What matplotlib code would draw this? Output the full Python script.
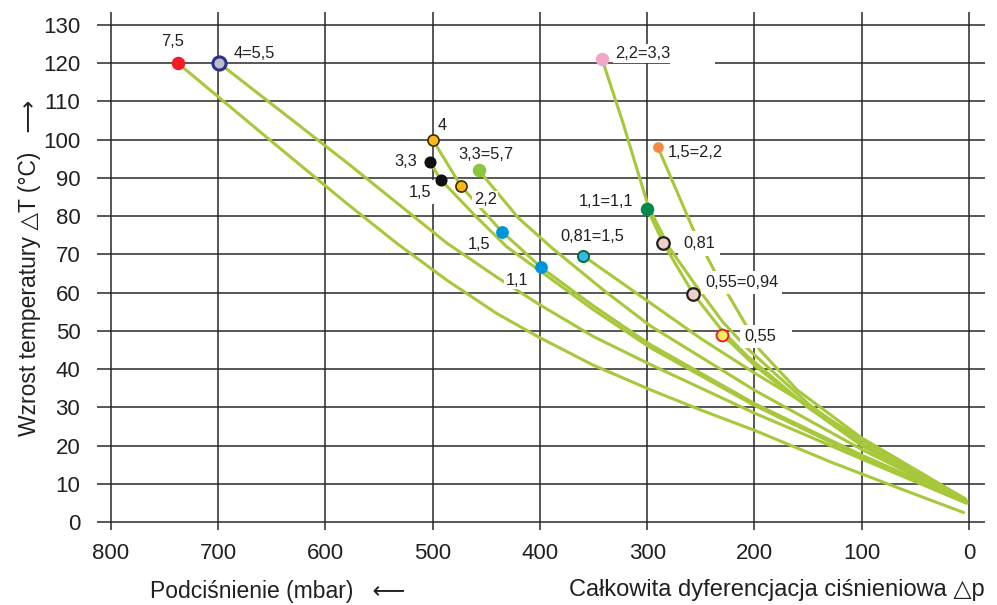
import matplotlib
matplotlib.use('Agg')
import matplotlib.pyplot as plt

plt.rcParams['font.family'] = ['Liberation Sans', 'DejaVu Sans']

x_ticks = [800, 700, 600, 500, 400, 300, 200, 100, 0]
y_ticks = [0, 10, 20, 30, 40, 50, 60, 70, 80, 90, 100, 110, 120, 130]

# curves (x = mbar, y = delta T)
red_x = [737.5, 650, 580, 533, 487, 440, 400, 350, 297, 250, 200, 127, 60, 5]
red_y = [120, 99.5, 83.3, 72.8, 63.3, 54.5, 48.2, 41, 34.6, 29.3, 24, 15.5, 8.3, 2.5]
navy_x = [699, 580, 487, 440, 400, 350, 297, 200, 100, 3]
navy_y = [120, 94, 73, 64, 56.8, 48.5, 41.2, 28.5, 16.5, 5]
orange4_x = [500, 473.7, 435.4, 418, 399, 350, 297, 200, 100, 2]
orange4_y = [100, 87.9, 75.9, 71.5, 66.6, 56.5, 46.4, 31, 17.5, 5.5]
black_x = [502.6, 492, 460, 431, 399, 350, 297, 200, 100, 2]
black_y = [94.1, 89.4, 80, 72, 65.5, 55.5, 45.6, 30.5, 17, 5]
lime_x = [457, 420, 388, 340, 297, 200, 100, 3]
lime_y = [92, 79.5, 71.5, 60.5, 51.3, 34.5, 19, 5.5]
cyan_x = [360, 297, 250, 200, 150, 100, 4]
cyan_y = [69.7, 57.3, 48, 39, 30.5, 21.5, 6]
pink_x = [342, 322.6, 299, 280, 255, 230, 207, 150, 100, 3]
pink_y = [121, 104.4, 82.6, 72, 62, 52.5, 45.5, 31, 20.5, 5.5]
green_x = [300, 285, 257, 230, 207, 150, 100, 2]
green_y = [82, 72.9, 59.7, 50, 43.5, 30, 20, 5]
orange15_x = [290, 255.5, 236.8, 207, 195, 160, 100, 3]
orange15_y = [98, 75.5, 65.4, 51.1, 45, 34.5, 22, 6]
yellow_x = [230, 198, 150, 100, 3]
yellow_y = [49, 40.5, 30, 20.5, 6]

curves = [(red_x, red_y), (navy_x, navy_y), (orange4_x, orange4_y),
          (black_x, black_y), (lime_x, lime_y), (cyan_x, cyan_y),
          (pink_x, pink_y), (green_x, green_y), (orange15_x, orange15_y),
          (yellow_x, yellow_y)]

# marked points
pt_x = [737.5, 699, 500, 502.6, 492, 473.7, 457, 435.4, 399, 360,
        342, 290, 300, 285, 257, 230]
pt_y = [120, 120, 100, 94.1, 89.4, 87.9, 92, 75.9, 66.6, 69.7,
        121, 98, 82, 72.9, 59.7, 49]
pt_face = ['#ee1c24', '#bdbdc6', '#fdb913', '#111111', '#111111', '#fdb913',
           '#8cc63f', '#0095da', '#0095da', '#3ab7ea', '#f3a6ca', '#f68b3f',
           '#00894b', '#ead0c8', '#ead0c8', '#f7f05a']
pt_edge = ['#ee1c24', '#2e3192', '#3a2a00', '#111111', '#111111', '#3a2a00',
           '#8cc63f', '#0095da', '#0095da', '#00703c', '#f3a6ca', '#f68b3f',
           '#00894b', '#231f20', '#231f20', '#ed1c24']
pt_size = [8.5, 9.5, 8, 7.5, 7.5, 8, 8.5, 8, 8, 8, 8.5, 6.5, 8.5, 9, 9, 8.5]
pt_ew = [1.2, 2.2, 1.2, 1.2, 1.2, 1.2, 1.2, 1.2, 1.2, 1.4, 1.2, 1.2, 1.2, 1.6, 1.6, 1.4]

# point labels
lab_text = ['7,5', '4=5,5', '4', '3,3', '1,5', '2,2', '3,3=5,7', '1,5', '1,1',
            '0,81=1,5', '1,1=1,1', '2,2=3,3', '1,5=2,2', '0,81', '0,55=0,94', '0,55']
lab_x = [743, 686, 491.4, 525, 512, 451, 450, 457, 421.5,
         351.5, 338.5, 330, 280.7, 266.7, 246, 209.8]
lab_y = [125.8, 122.6, 103.6, 94.2, 86.3, 84.4, 96.2, 72.7, 63.3,
         74.8, 83.9, 122.6, 96.7, 72.9, 62.7, 48.6]
lab_ha = ['center', 'left', 'center', 'center', 'center', 'center', 'center',
          'center', 'center', 'center', 'center', 'left', 'left', 'left', 'left', 'left']
lab_pad = [1, 1, 1, 1, 3, 1, 1, 1, 1, 1, 1, 1.5, 1, 3.5, 3, 3]
# white strip past the text end (in points) for the labels that blank the grid
lab_tail = [0, 0, 0, 0, 0, 0, 0, 0, 0, 0, 0, 32, 0, 0, 0, 12]

line_green = '#a8c83c'
ink = '#231f20'

fig = plt.figure(figsize=(9.97, 6.05), dpi=100)
ax = fig.add_axes([0.0973, 0.1339, 0.8907, 0.8463])
ax.set_xlim(813, -15)
ax.set_ylim(-0.5, 133.4)
ax.set_xticks(x_ticks)
ax.set_yticks(y_ticks)
ax.grid(True, color='#2a2a2a', lw=1.1, zorder=0)
ax.set_axisbelow(True)
for s in ax.spines.values():
    s.set_visible(False)
ax.tick_params(axis='x', direction='out', length=4.5, width=1.1, color='#2a2a2a',
               pad=9, labelsize=16, labelcolor=ink)
ax.tick_params(axis='y', length=0, pad=12, labelsize=16, labelcolor=ink)

for cx, cy in curves:
    ax.plot(cx, cy, color=line_green, lw=2.2, solid_capstyle='round',
            solid_joinstyle='round', zorder=3)

fig.canvas.draw()
for i in range(len(lab_text)):
    t = ax.text(lab_x[i], lab_y[i], lab_text[i], ha=lab_ha[i], va='center',
                fontsize=11.8, color=ink, zorder=4,
                bbox=dict(fc='white', ec='none', pad=lab_pad[i]))
    if lab_tail[i]:
        bb = t.get_window_extent(renderer=fig.canvas.get_renderer())
        bb = bb.transformed(ax.transData.inverted())
        ax.fill_between([bb.x1, bb.x1 - lab_tail[i] * 1.389 / 1.0725],
                        lab_y[i] - 3, lab_y[i] + 3, color='white', lw=0, zorder=2.5)

for i in range(len(pt_x)):
    ax.plot(pt_x[i], pt_y[i], 'o', ms=pt_size[i], mfc=pt_face[i], mec=pt_edge[i],
            mew=pt_ew[i], zorder=5)

fig.text(0.030, 0.557, 'Wzrost temperatury \u25b3T (\u00b0C)   \u27f6', rotation=90,
         ha='center', va='center', fontsize=16.5, color=ink)
fig.text(0.1505, 0.022, 'Podci\u015bnienie (mbar)   \u27f5', ha='left', va='center',
         fontsize=16.5, color=ink)
fig.text(0.988, 0.024, 'Ca\u0142kowita dyferencjacja ci\u015bnieniowa \u25b3p', ha='right',
         va='center', fontsize=17, color=ink)

fig.savefig('out.png', dpi=100)
